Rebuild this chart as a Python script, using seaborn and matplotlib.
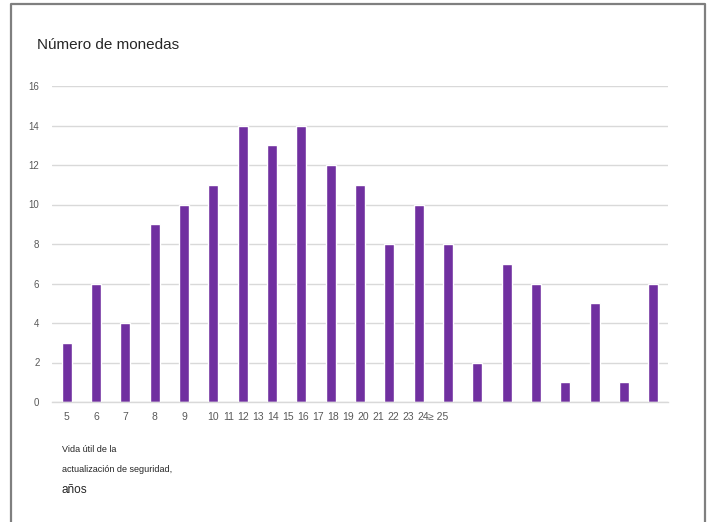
import numpy as np
import pandas as pd
import matplotlib.pyplot as plt
import seaborn as sns

etiquetas = ["5", "6", "7", "8", "9", "10", "11", "12", "13", "14", "15", "16",
             "17", "18", "19", "20", "21", "22", "23", "24", "≥ 25"]
monedas = [3, 6, 4, 9, 10, 11, 14, 13, 14, 12, 11, 8, 10, 8, 2, 7, 6, 1, 5, 1, 6]

df = pd.DataFrame({"vida": etiquetas, "monedas": monedas})

sns.set_style("white")
plt.rcParams['font.family'] = ['Liberation Sans', 'DejaVu Sans']

fig = plt.figure(figsize=(7.12, 5.22), dpi=100)
ax = fig.add_axes([52 / 712, 1 - 402 / 522, 616 / 712, 316 / 522])

sns.barplot(data=df, x="vida", y="monedas", color="#7030a0", saturation=1,
            width=0.33, ax=ax)

ax.set_ylim(0, 16)
ax.set_xlim(-0.5, len(etiquetas) - 0.5)
ax.set_yticks(range(0, 17, 2))
ax.yaxis.grid(True, color="#d9d9d9", linewidth=1)
ax.set_axisbelow(True)
for s in ["top", "right", "left"]:
    ax.spines[s].set_visible(False)
ax.spines["bottom"].set_color("#d9d9d9")
ax.spines["bottom"].set_linewidth(1)

# las etiquetas del eje x no coinciden con las barras: a partir de 10 van comprimidas
pos = [i if i < 5 else 5 + (i - 5) * 0.512 for i in range(len(etiquetas))]
ax.set_xticks(pos, etiquetas)
ax.tick_params(axis="x", length=0, pad=7, labelsize=7.5, labelcolor="#595959")
ax.tick_params(axis="y", length=0, pad=9, labelsize=7, labelcolor="#595959")
ax.set_xlabel("")
ax.set_ylabel("")

fig.text(37 / 712, 1 - 45 / 522, "Número de monedas", fontsize=11, va="center", ha="left")
fig.text(62 / 712, 1 - 449 / 522, "Vida útil de la", fontsize=6.5, va="center")
fig.text(62 / 712, 1 - 470 / 522, "actualización de seguridad,", fontsize=6.5, va="center")
fig.text(62 / 712, 1 - 490 / 522, "años", fontsize=8.5, va="center")

# marco gris alrededor
fig.add_artist(plt.Line2D([11 / 712, 11 / 712, 705 / 712, 705 / 712],
                          [0, 1 - 4 / 522, 1 - 4 / 522, 0],
                          color="#7f7f7f", linewidth=1.6, transform=fig.transFigure))

fig.savefig("out.png", dpi=100)
